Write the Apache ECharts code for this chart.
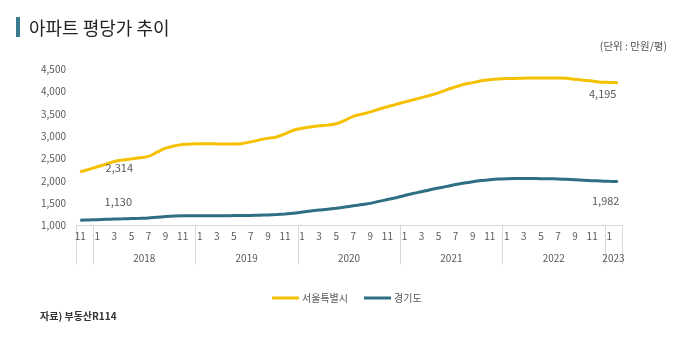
<!DOCTYPE html>
<html>
<head>
<meta charset="utf-8">
<script src="https://cdn.jsdelivr.net/npm/echarts@6/dist/echarts.min.js"></script>
<style>
  html, body { margin: 0; padding: 0; background: #ffffff; }
  #chart { width: 674px; height: 341px; }
</style>
</head>
<body>
<div id="chart"></div>
<script>
// Monthly categories, 2017-11 .. 2023-02
const categories = [
  '2017-11','2017-12',
  '2018-01','2018-02','2018-03','2018-04','2018-05','2018-06','2018-07','2018-08','2018-09','2018-10','2018-11','2018-12',
  '2019-01','2019-02','2019-03','2019-04','2019-05','2019-06','2019-07','2019-08','2019-09','2019-10','2019-11','2019-12',
  '2020-01','2020-02','2020-03','2020-04','2020-05','2020-06','2020-07','2020-08','2020-09','2020-10','2020-11','2020-12',
  '2021-01','2021-02','2021-03','2021-04','2021-05','2021-06','2021-07','2021-08','2021-09','2021-10','2021-11','2021-12',
  '2022-01','2022-02','2022-03','2022-04','2022-05','2022-06','2022-07','2022-08','2022-09','2022-10','2022-11','2022-12',
  '2023-01','2023-02'
];

// 서울특별시 (만원/평)
const seoul = [
  2200, 2255, 2314, 2370, 2430, 2465, 2490, 2515, 2545, 2640, 2730, 2780, 2810, 2825,
  2830, 2830, 2825, 2820, 2820, 2835, 2870, 2915, 2950, 2980, 3050, 3130,
  3175, 3205, 3230, 3245, 3275, 3350, 3440, 3490, 3540, 3600, 3655, 3710,
  3760, 3810, 3860, 3910, 3965, 4040, 4100, 4160, 4195, 4235, 4260, 4275,
  4285, 4290, 4295, 4300, 4300, 4300, 4298, 4292, 4270, 4250, 4230, 4205,
  4200, 4195
];

// 경기도 (만원/평)
const gyeonggi = [
  1120, 1125, 1130, 1138, 1145, 1150, 1155, 1160, 1168, 1185, 1200, 1212, 1218, 1220,
  1220, 1220, 1220, 1220, 1222, 1224, 1226, 1230, 1236, 1245, 1258, 1275,
  1300, 1325, 1345, 1362, 1385, 1412, 1440, 1468, 1495, 1540, 1580, 1620,
  1670, 1715, 1755, 1800, 1840, 1875, 1915, 1950, 1980, 2005, 2025, 2040,
  2048, 2052, 2052, 2050, 2048, 2045, 2040, 2032, 2022, 2012, 2002, 1995,
  1988, 1982
];

const seriesNames = ['서울특별시', '경기도'];
const yearLabels = ['2018', '2019', '2020', '2021', '2022', '2023'];
const labelledIndex = { seoul: [2, 63], gyeonggi: [2, 63] };

const FONT = '"Noto Sans CJK KR", "Noto Sans", sans-serif';
const YELLOW = '#f5c000';
const TEAL = '#2f6f84';
const GREY_TEXT = '#595959';
const AXIS_GREY = '#d9d9d9';

// year group boundaries (category index where each year starts) and their centres
const yearStarts = [0];
categories.forEach((c, i) => { if (i > 0 && c.endsWith('-01')) yearStarts.push(i); });
const bounds = yearStarts.concat([categories.length]);
const yearCentres = [];
const centreToYear = {};
for (let g = 1; g < bounds.length - 1; g++) {
  const ctr = (bounds[g] + bounds[g + 1]) / 2;
  yearCentres.push(ctr);
  centreToYear[ctr] = yearLabels[g - 1];
}

function fmt(v) { return v.toLocaleString('en-US'); }

function withLabels(values, idxs, offsets) {
  return values.map((v, i) => {
    const k = idxs.indexOf(i);
    if (k < 0) return v;
    return {
      value: v,
      label: {
        show: true, position: 'inside', offset: offsets[k],
        formatter: fmt(v), color: GREY_TEXT, fontSize: 11, fontFamily: FONT
      }
    };
  });
}

const chart = echarts.init(document.getElementById('chart'), null, { renderer: 'canvas' });

chart.setOption({
  backgroundColor: '#ffffff',
  animation: false,
  textStyle: { fontFamily: FONT },
  title: {
    text: '아파트 평당가 추이',
    left: 24, top: 14,
    textStyle: { fontSize: 18, fontWeight: 'normal', color: '#222222', fontFamily: FONT }
  },
  graphic: [
    { type: 'rect', left: 16, top: 17, shape: { width: 4, height: 20 }, style: { fill: '#3b7b8e' } },
    { type: 'text', right: 7, top: 41, style: { text: '(단위 : 만원/평)', fill: '#555555', font: '10.5px ' + FONT } },
    { type: 'text', left: 40, top: 311, style: { text: '자료) 부동산R114', fill: '#333333', font: 'bold 10px ' + FONT } }
  ],
  legend: {
    data: seriesNames,
    left: 267, top: 288,
    icon: 'rect', itemWidth: 27, itemHeight: 3, itemGap: 16,
    textStyle: { color: GREY_TEXT, fontSize: 10, fontFamily: FONT, padding: [0, 0, 0, -2] }
  },
  grid: { left: 76, right: 52, top: 69, bottom: 115.5, containLabel: false },
  xAxis: [
    {
      type: 'category',
      data: categories,
      boundaryGap: true,
      axisLine: { show: true, lineStyle: { color: AXIS_GREY, width: 1 } },
      axisTick: { show: false },
      axisLabel: {
        interval: (i, v) => parseInt(v.split('-')[1], 10) % 2 === 1,
        formatter: v => String(parseInt(v.split('-')[1], 10)),
        color: GREY_TEXT, fontSize: 10, margin: 6, fontFamily: FONT
      },
      splitLine: { show: false }
    },
    {
      type: 'value',
      position: 'bottom',
      min: 0, max: categories.length,
      axisLine: { show: false },
      axisTick: { show: true, customValues: bounds, length: 39, lineStyle: { color: AXIS_GREY, width: 1 } },
      axisLabel: {
        customValues: yearCentres,
        formatter: v => centreToYear[v] || '',
        color: GREY_TEXT, fontSize: 10, margin: 28, fontFamily: FONT
      },
      splitLine: { show: false }
    }
  ],
  yAxis: {
    type: 'value',
    min: 1000, max: 4500, interval: 500,
    axisLine: { show: false },
    axisTick: { show: false },
    splitLine: { show: false },
    axisLabel: { formatter: v => fmt(v), color: GREY_TEXT, fontSize: 10, margin: 10, fontFamily: FONT }
  },
  series: [
    {
      name: seriesNames[0], type: 'line', xAxisIndex: 0,
      data: withLabels(seoul, labelledIndex.seoul, [[22, 1], [-15, 11]]),
      smooth: 0.3, symbol: 'circle', symbolSize: 1, showSymbol: true, showAllSymbol: true,
      itemStyle: { color: YELLOW },
      lineStyle: { color: YELLOW, width: 3 },
      label: { show: false }
    },
    {
      name: seriesNames[1], type: 'line', xAxisIndex: 0,
      data: withLabels(gyeonggi, labelledIndex.gyeonggi, [[21, -18], [-12, 19]]),
      smooth: 0.3, symbol: 'circle', symbolSize: 1, showSymbol: true, showAllSymbol: true,
      itemStyle: { color: TEAL },
      lineStyle: { color: TEAL, width: 3 },
      label: { show: false }
    }
  ]
});
</script>
</body>
</html>
